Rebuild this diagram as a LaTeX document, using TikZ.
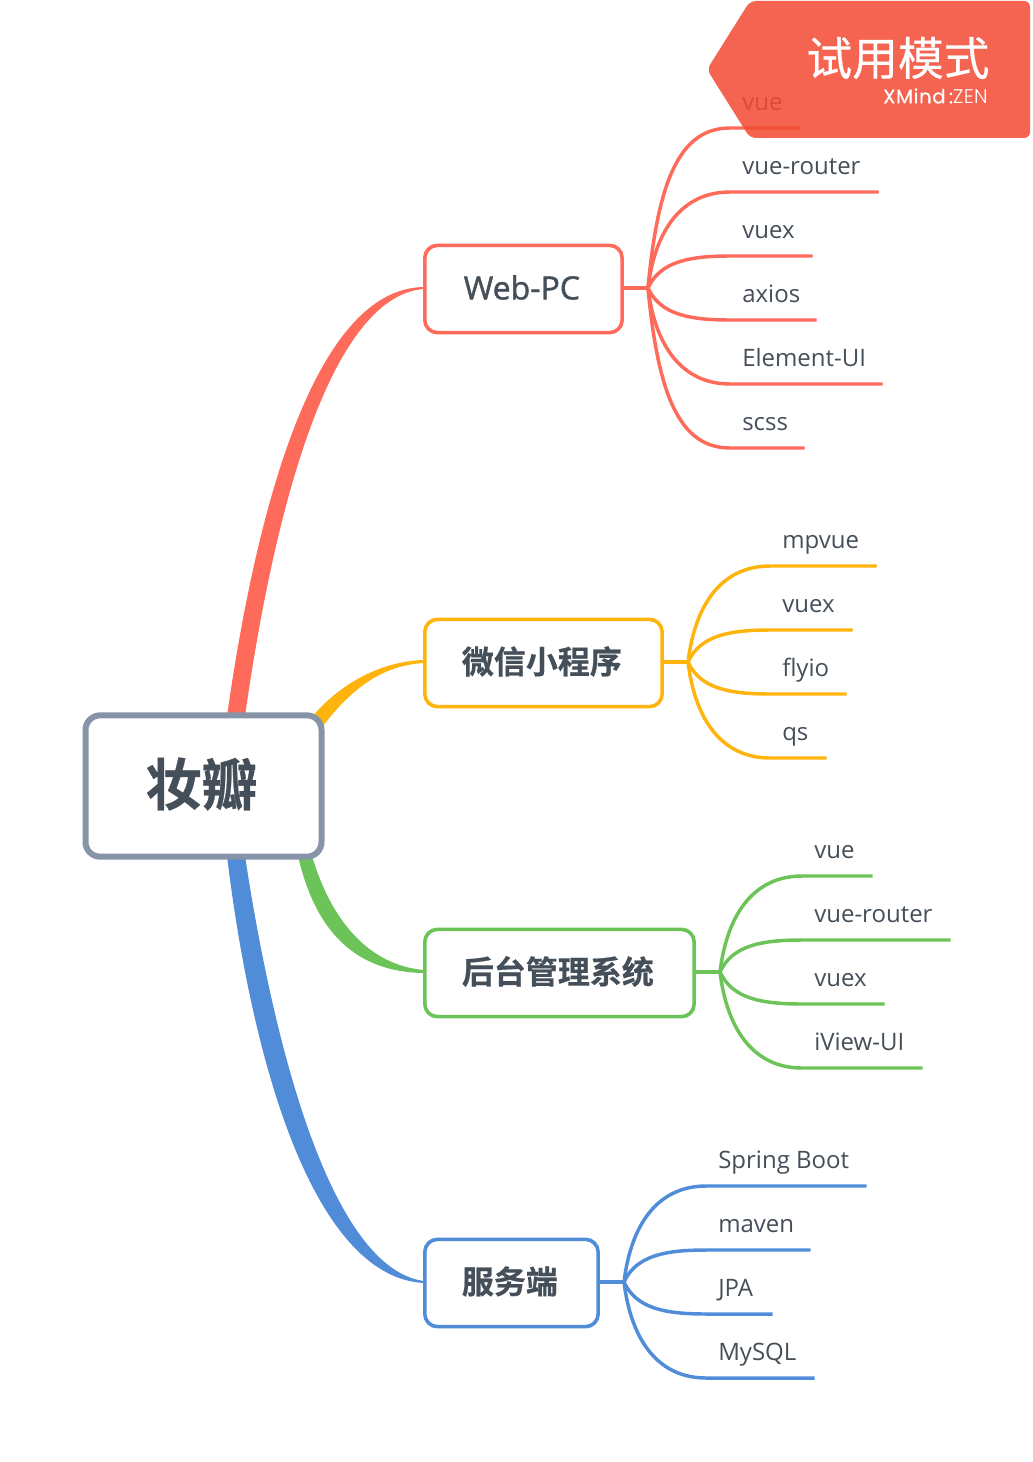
\documentclass[tikz,border=0pt]{standalone}
\usepackage{fontspec}
\usetikzlibrary{calc}
\setmainfont{Open Sans}
\newfontfamily\cjk{Noto Sans CJK SC}[BoldFont={Noto Sans CJK SC Bold},BoldFeatures={FakeBold=0.5}]
\newfontfamily\cjks{Noto Sans CJK SC}[FakeBold=0.4]
\newfontfamily\opensb{Open Sans}[FakeBold=1.3]
\newfontfamily\pop{Poppins}[FakeBold=0.3,LetterSpace=3]
\newfontfamily\popl{Poppins}[UprightFont=* Light,LetterSpace=2]
\definecolor{cred}{HTML}{FF6B5B}
\definecolor{cyel}{HTML}{FFB40D}
\definecolor{cgrn}{HTML}{6CC358}
\definecolor{cblu}{HTML}{518CD9}
\definecolor{txt}{HTML}{454F59}
\definecolor{rootb}{HTML}{8793A6}
\definecolor{stamp}{HTML}{F44A33}
\tikzset{
 x=0.75pt,y=-0.75pt,
 root/.style={draw=rootb,line width=4.5pt,rounded corners=11pt,fill=white,inner sep=0pt,text=txt,font=\cjk\bfseries\fontsize{42}{42}\selectfont,minimum width=177pt,minimum height=106pt},
 topic/.style={draw=#1,line width=2.7pt,rounded corners=9.5pt,fill=white,inner sep=0pt,text=txt,minimum height=65.5pt,anchor=west,font=\cjk\bfseries\fontsize{24}{24}\selectfont},
 leaf/.style={anchor=south west,inner sep=0pt,text=txt,font=\fontsize{18}{18}\selectfont,text depth=12.75pt,text height=20pt},
 branch/.style={line width=2.6pt,draw=#1},
 stem/.style={line width=2.7pt,draw=#1},
 hub/.style={inner sep=0pt,minimum size=0pt},
 stamptext/.style={inner sep=0pt,text=white},
}
\newcommand{\lf}[2]{\makebox[\dimexpr#1pt*3/4\relax][l]{\hspace*{9pt}#2}}
\newcommand{\up}[1]{\raisebox{1.2pt}[\height][\depth]{\hspace*{-2.4pt}#1}}
\newcommand{\leafline}[6]{% colour, hub, leaf, c1x, c1y, c2x
 \draw[branch=#1] (#2.center) .. controls ($(#2.center)+(#4,#5)$) and ($(#3.south west)+(-#6,0)$) .. (#3.south west) -- (#3.south east);}
\begin{document}
\begin{tikzpicture}
\useasboundingbox (0,0) rectangle (1032,1462);
\fill[white] (0,0) rectangle (1032,1462);
% tapered main branches
\fill[cred] (227,716) .. controls (262,470) and (325,288) .. (424,287) -- (424,289) .. controls (340,295) and (280,470) .. (245,716) -- cycle;
\fill[cyel] (311,718) .. controls (343,680) and (385,661) .. (424,660) -- (424,663) .. controls (390,665) and (358,680) .. (323,726) -- cycle;
\fill[cgrn] (298,856) .. controls (314,925) and (350,972) .. (424,973) -- (424,970) .. controls (376,966) and (334,930) .. (312,856) -- cycle;
\fill[cblu] (227,856) .. controls (255,1085) and (320,1278) .. (424,1283) -- (424,1281) .. controls (340,1270) and (280,1085) .. (245,856) -- cycle;
% root
\node[root] (R) at (203.5,786) {\raisebox{1.5pt}[\height][\depth]{\hspace*{-3pt}妆瓣}};
% topics
\node[topic=cred,minimum width=148pt,font=\opensb\fontsize{24}{24}\selectfont] (T1) at (423,289) {\up{Web-PC}};
\node[topic=cyel,minimum width=178pt] (T2) at (423,663) {\up{微信小程序}};
\node[topic=cgrn,minimum width=202pt] (T3) at (423,973) {\up{后台管理系统}};
\node[topic=cblu,minimum width=130pt] (T4) at (423,1283) {\up{服务端}};
% hubs
\node[hub] (H1) at (648,288) {};
\node[hub] (H2) at (688,662) {};
\node[hub] (H3) at (720,972) {};
\node[hub] (H4) at (624,1282) {};
\draw[stem=cred] (T1.east |- H1) -- (H1);
\draw[stem=cyel] (T2.east |- H2) -- (H2);
\draw[stem=cgrn] (T3.east |- H3) -- (H3);
\draw[stem=cblu] (T4.east |- H4) -- (H4);
% Web-PC leaves
\node[leaf] (A1) at (730,128) {\lf{70}{vue}};
\node[leaf] (A2) at (730,192) {\lf{148}{vue-router}};
\node[leaf] (A3) at (730,256) {\lf{82}{vuex}};
\node[leaf] (A4) at (730,320) {\lf{86}{axios}};
\node[leaf] (A5) at (730,384) {\lf{152}{Element-UI}};
\node[leaf] (A6) at (730,448) {\lf{74}{scss}};
\leafline{cred}{H1}{A1}{10}{-108}{50}
\leafline{cred}{H1}{A2}{7}{-58}{48}
\leafline{cred}{H1}{A3}{12}{-26}{42}
\leafline{cred}{H1}{A4}{12}{26}{42}
\leafline{cred}{H1}{A5}{7}{58}{48}
\leafline{cred}{H1}{A6}{10}{108}{50}
% mini-program leaves
\node[leaf] (B1) at (770,566) {\lf{106}{mpvue}};
\node[leaf] (B2) at (770,630) {\lf{82}{vuex}};
\node[leaf] (B3) at (770,694) {\lf{76}{flyio}};
\node[leaf] (B4) at (770,758) {\lf{56}{qs}};
\leafline{cyel}{H2}{B1}{7}{-58}{48}
\leafline{cyel}{H2}{B2}{12}{-26}{42}
\leafline{cyel}{H2}{B3}{12}{26}{42}
\leafline{cyel}{H2}{B4}{7}{58}{48}
% admin leaves
\node[leaf] (C1) at (802,876) {\lf{70}{vue}};
\node[leaf] (C2) at (802,940) {\lf{148}{vue-router}};
\node[leaf] (C3) at (802,1004) {\lf{82}{vuex}};
\node[leaf] (C4) at (802,1068) {\lf{120}{iView-UI}};
\leafline{cgrn}{H3}{C1}{7}{-58}{48}
\leafline{cgrn}{H3}{C2}{12}{-26}{42}
\leafline{cgrn}{H3}{C3}{12}{26}{42}
\leafline{cgrn}{H3}{C4}{7}{58}{48}
% server leaves
\node[leaf] (D1) at (706,1186) {\lf{160}{Spring Boot}};
\node[leaf] (D2) at (706,1250) {\lf{104}{maven}};
\node[leaf] (D3) at (706,1314) {\lf{66}{JPA}};
\node[leaf] (D4) at (706,1378) {\lf{108}{MySQL}};
\leafline{cblu}{H4}{D1}{7}{-58}{48}
\leafline{cblu}{H4}{D2}{12}{-26}{42}
\leafline{cblu}{H4}{D3}{12}{26}{42}
\leafline{cblu}{H4}{D4}{7}{58}{48}
% trial stamp
\fill[stamp,opacity=0.85,rounded corners=4.5pt] (750,1) -- (1030,1) -- (1030,138) -- (750,138) -- (707,69.5) -- cycle;
\node[stamptext,anchor=center,font=\cjks\fontsize{34.3}{34}\selectfont] (S1) at (898,58) {试用模式};
\node[stamptext,anchor=east,font=\fontsize{14.8}{15}\selectfont] (S2) at (988,96) {{\pop XMind\,:}{\popl ZEN}};
\end{tikzpicture}
\end{document}
